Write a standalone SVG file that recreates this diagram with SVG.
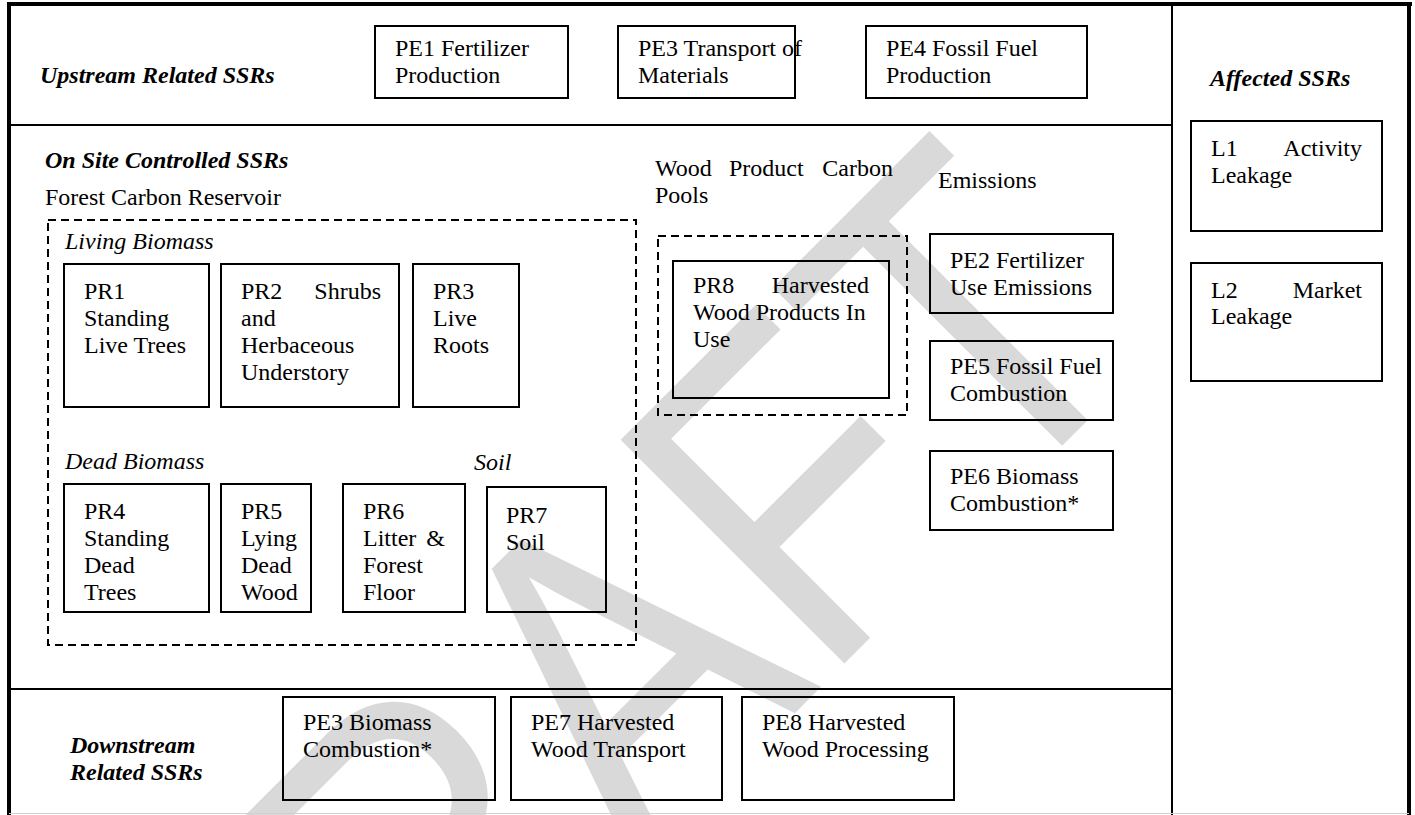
<svg xmlns="http://www.w3.org/2000/svg" width="1415" height="815" viewBox="0 0 1415 815">
<style>
.t{font-family:"Liberation Serif","Times New Roman",serif;font-size:24px;fill:#000}
.bi{font-weight:bold;font-style:italic}
.i{font-style:italic}
.box{fill:none;stroke:#000;stroke-width:2}
.dash{fill:none;stroke:#000;stroke-width:2;stroke-dasharray:8 5}
.frame{stroke:#000;fill:none}
.wm{font-family:"Liberation Sans",Arial,sans-serif;font-size:460px;fill:#d9d9d9}
</style>
<rect x="0" y="0" width="1415" height="815" fill="#fff"/>
<g id="watermark"><text class="wm" transform="translate(238,1270) rotate(-45) scale(0.85,1)">DRAFT</text></g>
<g id="frame">
<line class="frame" x1="9" y1="2" x2="9" y2="815" stroke-width="4"/>
<line class="frame" x1="7" y1="4" x2="1412" y2="4" stroke-width="4"/>
<line class="frame" x1="1409" y1="2" x2="1409" y2="815" stroke-width="4"/>
<line class="frame" x1="1172" y1="4" x2="1172" y2="815" stroke-width="2"/>
<line class="frame" x1="9" y1="125" x2="1172" y2="125" stroke-width="2"/>
<line class="frame" x1="9" y1="689" x2="1172" y2="689" stroke-width="2"/>
<line x1="9" y1="813.5" x2="1409" y2="813.5" stroke="#d0d0d0" stroke-width="1"/>
</g>
<g id="labels">
<text class="t bi" x="40" y="83">Upstream Related SSRs</text>
<text class="t bi" x="45" y="168">On Site Controlled SSRs</text>
<text class="t" x="45" y="205">Forest Carbon Reservoir</text>
<text class="t i" x="65" y="249">Living Biomass</text>
<text class="t i" x="65" y="469">Dead Biomass</text>
<text class="t i" x="474" y="470">Soil</text>
<text class="t"><tspan x="655" y="176">Wood</tspan><tspan x="729" y="176">Product</tspan><tspan x="893" y="176" text-anchor="end">Carbon</tspan><tspan x="655" y="203">Pools</tspan></text>
<text class="t" x="938" y="188">Emissions</text>
<text class="t bi" x="1210" y="86">Affected SSRs</text>
<text class="t bi"><tspan x="70" y="753">Downstream</tspan><tspan x="70" y="780">Related SSRs</tspan></text>
</g>
<g id="groups">
<rect class="dash" x="48" y="220" width="588" height="425"/>
<rect class="dash" x="658" y="236" width="249" height="179"/>
</g>
<g id="PE1"><rect class="box" x="375" y="26" width="193" height="72"/><text class="t"><tspan x="395" y="56">PE1 Fertilizer</tspan><tspan x="395" y="83">Production</tspan></text></g>
<g id="PE3T"><rect class="box" x="618" y="26" width="177" height="72"/><text class="t"><tspan x="638" y="56">PE3 Transport of</tspan><tspan x="638" y="83">Materials</tspan></text></g>
<g id="PE4"><rect class="box" x="866" y="26" width="221" height="72"/><text class="t"><tspan x="886" y="56">PE4 Fossil Fuel</tspan><tspan x="886" y="83">Production</tspan></text></g>
<g id="PR1"><rect class="box" x="64" y="264" width="145" height="143"/><text class="t"><tspan x="84" y="299">PR1</tspan><tspan x="84" y="326">Standing</tspan><tspan x="84" y="353">Live Trees</tspan></text></g>
<g id="PR2"><rect class="box" x="221" y="264" width="178" height="143"/><text class="t"><tspan x="241" y="299">PR2</tspan><tspan x="381" y="299" text-anchor="end">Shrubs</tspan><tspan x="241" y="326">and</tspan><tspan x="241" y="353">Herbaceous</tspan><tspan x="241" y="380">Understory</tspan></text></g>
<g id="PR3"><rect class="box" x="413" y="264" width="106" height="143"/><text class="t"><tspan x="433" y="299">PR3</tspan><tspan x="433" y="326">Live</tspan><tspan x="433" y="353">Roots</tspan></text></g>
<g id="PR4"><rect class="box" x="64" y="484" width="145" height="128"/><text class="t"><tspan x="84" y="519">PR4</tspan><tspan x="84" y="546">Standing</tspan><tspan x="84" y="573">Dead</tspan><tspan x="84" y="600">Trees</tspan></text></g>
<g id="PR5"><rect class="box" x="221" y="484" width="90" height="128"/><text class="t"><tspan x="241" y="519">PR5</tspan><tspan x="241" y="546">Lying</tspan><tspan x="241" y="573">Dead</tspan><tspan x="241" y="600">Wood</tspan></text></g>
<g id="PR6"><rect class="box" x="343" y="484" width="122" height="128"/><text class="t"><tspan x="363" y="519">PR6</tspan><tspan x="363" y="546">Litter</tspan><tspan x="445" y="546" text-anchor="end">&amp;</tspan><tspan x="363" y="573">Forest</tspan><tspan x="363" y="600">Floor</tspan></text></g>
<g id="PR7"><rect class="box" x="487" y="487" width="119" height="125"/><text class="t"><tspan x="506" y="523">PR7</tspan><tspan x="506" y="550">Soil</tspan></text></g>
<g id="PR8"><rect class="box" x="673" y="261" width="216" height="137"/><text class="t"><tspan x="693" y="293">PR8</tspan><tspan x="869" y="293" text-anchor="end">Harvested</tspan><tspan x="693" y="320">Wood Products In</tspan><tspan x="693" y="347">Use</tspan></text></g>
<g id="PE2"><rect class="box" x="930" y="234" width="183" height="79"/><text class="t"><tspan x="950" y="268">PE2 Fertilizer</tspan><tspan x="950" y="295">Use Emissions</tspan></text></g>
<g id="PE5"><rect class="box" x="930" y="341" width="183" height="79"/><text class="t"><tspan x="950" y="374">PE5 Fossil Fuel</tspan><tspan x="950" y="401">Combustion</tspan></text></g>
<g id="PE6"><rect class="box" x="930" y="451" width="183" height="79"/><text class="t"><tspan x="950" y="484">PE6 Biomass</tspan><tspan x="950" y="511">Combustion*</tspan></text></g>
<g id="L1"><rect class="box" x="1191" y="121" width="191" height="110"/><text class="t"><tspan x="1211" y="156">L1</tspan><tspan x="1362" y="156" text-anchor="end">Activity</tspan><tspan x="1211" y="183">Leakage</tspan></text></g>
<g id="L2"><rect class="box" x="1191" y="263" width="191" height="118"/><text class="t"><tspan x="1211" y="298">L2</tspan><tspan x="1362" y="298" text-anchor="end">Market</tspan><tspan x="1211" y="324">Leakage</tspan></text></g>
<g id="PE3B"><rect class="box" x="283" y="697" width="212" height="103"/><text class="t"><tspan x="303" y="730">PE3 Biomass</tspan><tspan x="303" y="757">Combustion*</tspan></text></g>
<g id="PE7"><rect class="box" x="511" y="697" width="211" height="103"/><text class="t"><tspan x="531" y="730">PE7 Harvested</tspan><tspan x="531" y="757">Wood Transport</tspan></text></g>
<g id="PE8"><rect class="box" x="742" y="697" width="212" height="103"/><text class="t"><tspan x="762" y="730">PE8 Harvested</tspan><tspan x="762" y="757">Wood Processing</tspan></text></g>
<g id="connectors"></g>
</svg>
